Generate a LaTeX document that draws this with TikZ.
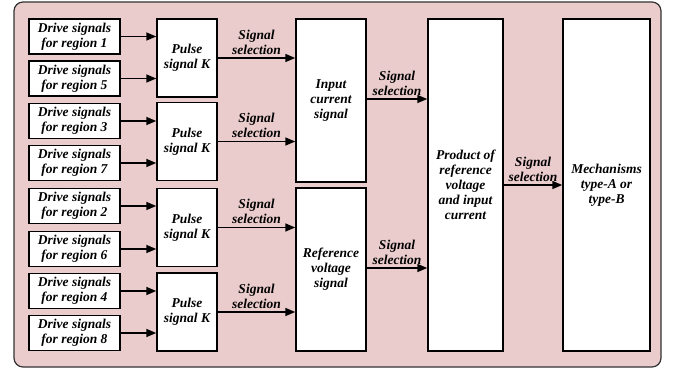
\documentclass[tikz,border=0pt]{standalone}
\usepackage{fontspec}
\setmainfont{Liberation Serif}
\usetikzlibrary{arrows.meta}
\definecolor{bgpink}{RGB}{235,204,204}
\tikzset{
  box/.style={draw=black, line width=1.5pt, fill=white, align=center, inner sep=1pt,
    font=\fontsize{13.5}{15}\selectfont\bfseries\itshape},
  arr/.style={line width=1.5pt, -{Triangle[length=10pt,width=8pt]}},
  lbl/.style={align=center, inner sep=1pt, font=\fontsize{13.5}{15}\selectfont\bfseries\itshape}
}
\begin{document}
\begin{tikzpicture}[x=1pt,y=-1pt]
\useasboundingbox (0,0) rectangle (677,369);
\draw[fill=bgpink, draw=black!80, line width=1.2pt, rounded corners=9pt] (14,2) rectangle (661,367);
% drive boxes
\foreach \n/\yy/\r in {d1/36.5/1, d5/78.5/5, d3/121/3, d7/163/7, d2/206/2, d6/249/6, d4/291/4, d8/333/8}{
  \node[box, minimum width=91pt, minimum height=35pt] (\n) at (74.5,\yy) {Drive signals\\for region \r};
}
% pulse boxes
\foreach \n/\yy in {p1/58, p2/141.5, p3/227.5, p4/312}{
  \node[box, minimum width=60pt, minimum height=78pt] (\n) at (187,\yy) {Pulse\\signal K};
}
\node[box, minimum width=70pt, minimum height=163pt] (ic) at (331,100.5) {Input\\current\\signal};
\node[box, minimum width=70pt, minimum height=163pt] (rv) at (331,269.5) {Reference\\voltage\\signal};
\node[box, minimum width=75pt, minimum height=332pt] (pr) at (465.5,185) {Product of\\reference\\voltage\\and input\\current};
\node[box, minimum width=87pt, minimum height=332pt] (me) at (606.5,185) {Mechanisms\\type-A or\\type-B};
% arrows drive -> pulse
\foreach \a/\b in {d1/p1, d5/p1, d3/p2, d7/p2, d2/p3, d6/p3, d4/p4, d8/p4}{
  \draw[arr] (\a.east) -- (\a.east -| \b.west);
}
% pulse -> ic/rv
\foreach \a/\b in {p1/ic, p2/ic, p3/rv, p4/rv}{
  \draw[arr] (\a.east) -- node[lbl, above=2pt] {Signal\\selection} (\a.east -| \b.west);
}
\coordinate (icy) at (0,99);
\coordinate (rvy) at (0,268);
\draw[arr] (ic.east |- icy) -- node[lbl, above=2pt] {Signal\\selection} (pr.west |- icy);
\draw[arr] (rv.east |- rvy) -- node[lbl, above=2pt] {Signal\\selection} (pr.west |- rvy);
\draw[arr] (pr.east) -- node[lbl, above=2pt] {Signal\\selection} (me.west);
\end{tikzpicture}
\end{document}
